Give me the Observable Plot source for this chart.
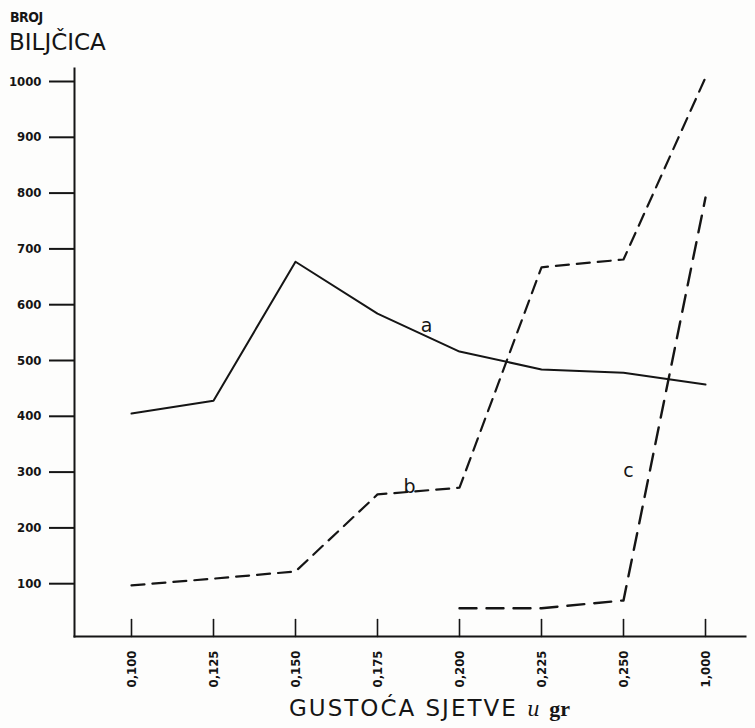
<!DOCTYPE html>
<html>
<head>
<meta charset="utf-8">
<script src="https://cdn.jsdelivr.net/npm/d3@7"></script>
<script src="https://cdn.jsdelivr.net/npm/@observablehq/plot@0.6"></script>
<style>
  html, body { margin: 0; padding: 0; background: #fdfdfc; }
  #wrap { position: relative; width: 755px; height: 728px; overflow: hidden; }
  .lbl { position: absolute; color: #151515; white-space: nowrap; line-height: 1; }
</style>
</head>
<body>
<div id="wrap">
  <div class="lbl" style="left:10px; top:10px; font-family:'DejaVu Sans Condensed'; font-weight:bold; font-size:14px; letter-spacing:-0.5px;">BROJ</div>
  <div class="lbl" style="left:9px; top:31px; font-family:'DejaVu Sans'; font-size:23px;">BILJČICA</div>
  <div class="lbl" style="left:289px; top:697px; font-family:'DejaVu Sans'; font-size:23px; letter-spacing:2px;">GUSTOĆA SJETVE <span style="font-family:'DejaVu Serif'; font-style:italic; font-size:20px; letter-spacing:0;">u</span> <span style="font-family:'Liberation Serif'; font-weight:bold; font-size:22px; letter-spacing:0;">gr</span></div>
</div>
<script>
// ---- data ----
const xLabels = ["0,100", "0,125", "0,150", "0,175", "0,200", "0,225", "0,250", "1,000"];
const seriesA = [405, 428, 677, 584, 516, 484, 478, 457];
const seriesB = [97, 109, 122, 260, 272, 667, 681, 1007];
const seriesC = [null, null, null, null, 56, 56, 70, 792];
const yTicks = [100, 200, 300, 400, 500, 600, 700, 800, 900, 1000];
const seriesNames = ["a", "b", "c"];

const ink = "#151515";
const toRows = (vals) => xLabels.map((x, i) => ({x, y: vals[i]})).filter(d => d.y != null);
const rowsA = toRows(seriesA), rowsB = toRows(seriesB), rowsC = toRows(seriesC);

const tickShape = {draw(ctx, l) { ctx.moveTo(0, 0); ctx.lineTo(0, -l); }};
const letterStyle = {fontSize: 19, fill: ink, fontFamily: "DejaVu Sans"};

const chart = Plot.plot({
  width: 755,
  height: 728,
  marginLeft: 74,
  marginRight: 10,
  marginTop: 68,
  marginBottom: 92,
  style: {background: "transparent", color: ink, fontFamily: "DejaVu Sans"},
  x: {type: "point", domain: xLabels, range: [131, 705], padding: 0},
  y: {domain: [0, 1000], range: [639, 81]},
  marks: [
    Plot.frame({anchor: "left", stroke: ink, strokeWidth: 2}),
    Plot.frame({anchor: "bottom", stroke: ink, strokeWidth: 2}),
    Plot.axisY({ticks: yTicks, tickSize: 25, tickPadding: 8, tickFormat: d => String(d), label: null,
      fontSize: 13, fontWeight: "bold", fontFamily: "DejaVu Sans Condensed", strokeWidth: 2, stroke: ink, fill: ink}),
    Plot.axisX({tickSize: 0, tickPadding: 14, tickRotate: -90, label: null,
      fontSize: 13, fontWeight: "bold", fontFamily: "DejaVu Sans Condensed", fill: ink, letterSpacing: 1}),
    Plot.vector(xLabels, {x: d => d, y: 0, length: 17, dy: -3, anchor: "start", shape: tickShape, stroke: ink, strokeWidth: 1.6}),
    Plot.line(rowsA, {x: "x", y: "y", stroke: ink, strokeWidth: 2}),
    Plot.line(rowsB, {x: "x", y: "y", stroke: ink, strokeWidth: 2.2, strokeDasharray: "13,8"}),
    Plot.line(rowsC, {x: "x", y: "y", stroke: ink, strokeWidth: 2.4, strokeDasharray: "17,10"}),
    Plot.text([seriesNames[0]], {x: () => xLabels[4], y: () => seriesA[4], text: d => d, dx: -33, dy: -26, ...letterStyle}),
    Plot.text([seriesNames[1]], {x: () => xLabels[3], y: () => seriesB[3], text: d => d, dx: 32, dy: -8, ...letterStyle}),
    Plot.text([seriesNames[2]], {x: () => xLabels[6], y: () => seriesC[6], text: d => d, dx: 5, dy: -130, ...letterStyle}),
  ]
});
document.getElementById("wrap").appendChild(chart);
chart.style.position = "absolute";
chart.style.left = "0px";
chart.style.top = "0px";
</script>
</body>
</html>
